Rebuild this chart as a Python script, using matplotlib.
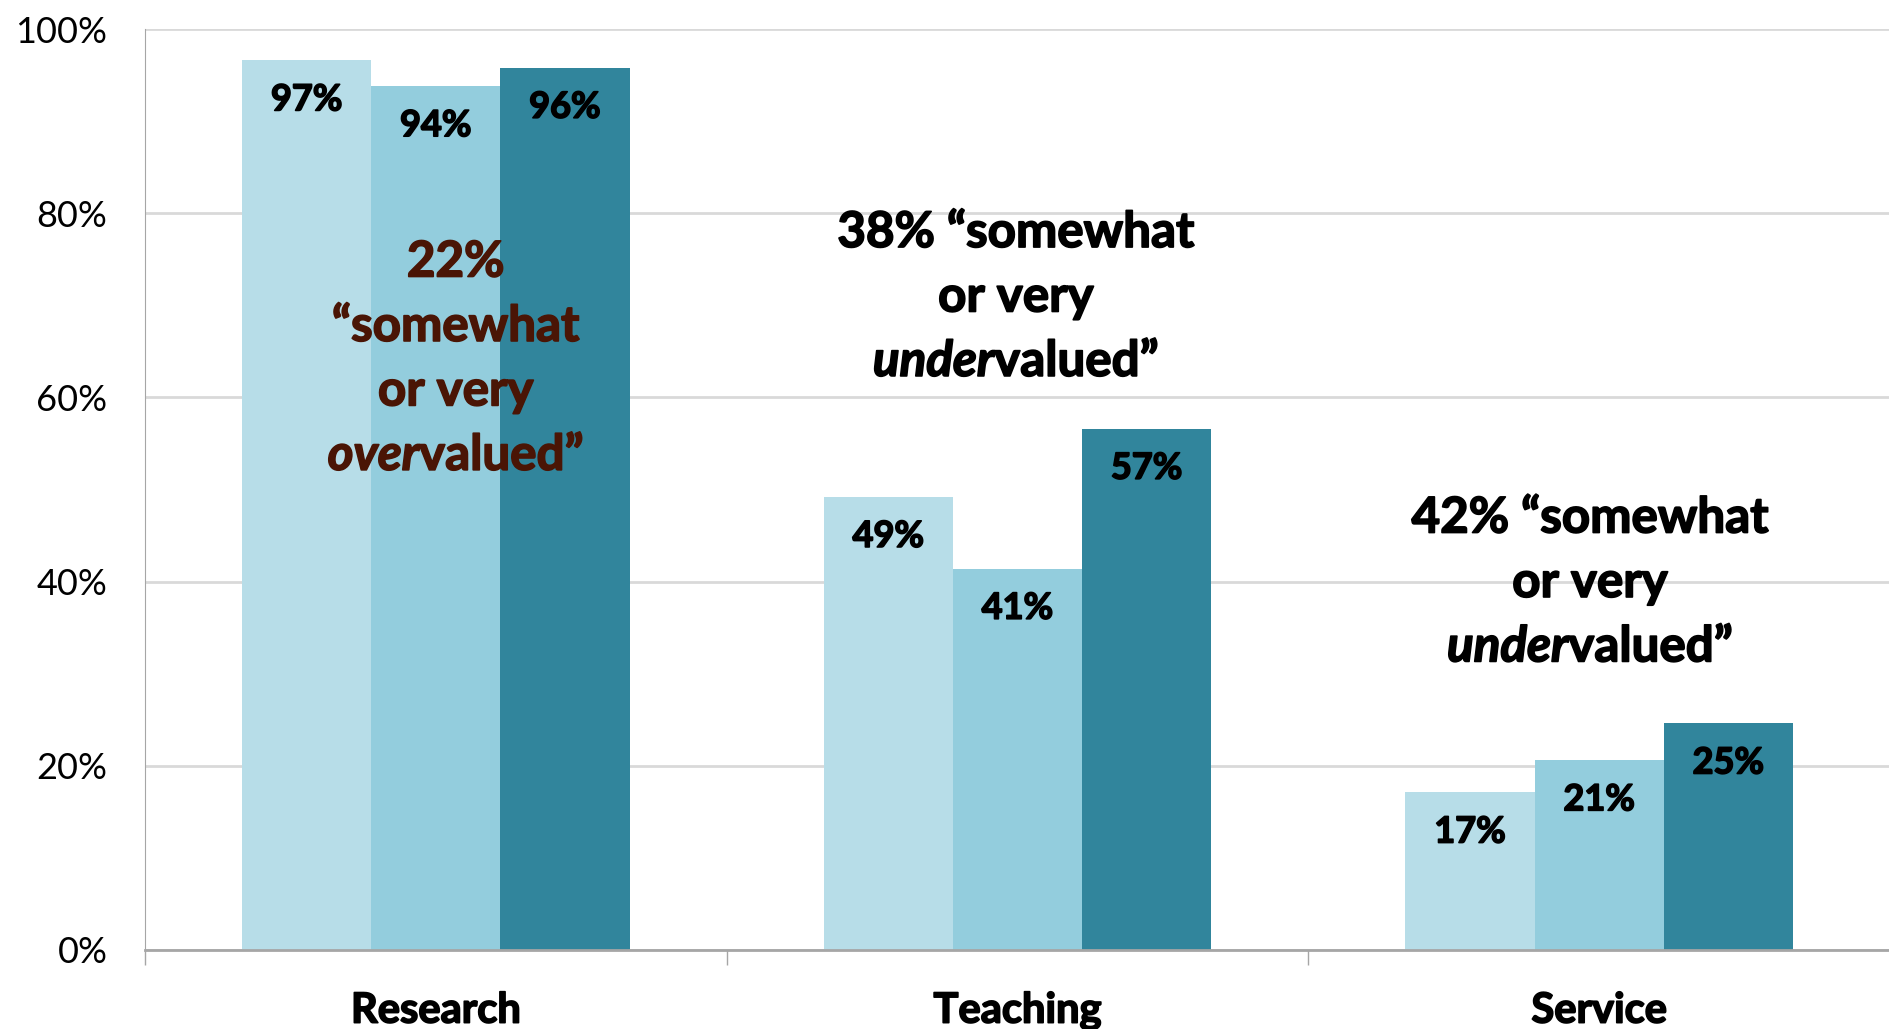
import matplotlib
matplotlib.use("Agg")
import matplotlib.pyplot as plt
import matplotlib.patheffects as pe
import numpy as np
from matplotlib.transforms import ScaledTranslation

plt.rcParams['font.family'] = ['Lato', 'DejaVu Sans']

categories = ["Research", "Teaching", "Service"]
series_a = [96.6, 49.2, 17.1]
series_b = [93.8, 41.4, 20.6]
series_c = [95.8, 56.6, 24.6]
labels_a = ["97%", "49%", "17%"]
labels_b = ["94%", "41%", "21%"]
labels_c = ["96%", "57%", "25%"]
yticks = [0, 20, 40, 60, 80, 100]
ytick_labels = ["0%", "20%", "40%", "60%", "80%", "100%"]

colors = ["#B7DDE8", "#93CDDD", "#31859C"]
brown = "#4A1505"

fig = plt.figure(figsize=(18.9, 10.29), dpi=100)
ax = fig.add_axes([0.0767, 0.0768, 0.9233, 0.8950])

def heavy(color):
    return [pe.withStroke(linewidth=1.2, foreground=color)]

x = np.arange(len(categories))
w = 0.222
for i, (vals, labs) in enumerate(zip([series_a, series_b, series_c],
                                      [labels_a, labels_b, labels_c])):
    bars = ax.bar(x + (i - 1) * w, vals, width=w, color=colors[i], zorder=2)
    for b, lab in zip(bars, labs):
        ax.annotate(lab, (b.get_x() + b.get_width() / 2, b.get_height()),
                    xytext=(0, -28.5), textcoords="offset points",
                    ha="center", va="center", fontsize=26, fontweight="bold",
                    color="black", zorder=3, path_effects=heavy("black"))

ax.set_xlim(-0.5, 2.5)
ax.set_ylim(0, 100)
ax.set_yticks(yticks)
ax.set_yticklabels(ytick_labels, fontsize=26)
ax.tick_params(axis="y", length=0, pad=27)
ax.yaxis.grid(True, color="#D9D9D9", linewidth=2, zorder=0)
ax.set_axisbelow(True)

ax.set_xticks(x)
ax.set_xticklabels(categories, fontsize=30, fontweight="bold")
for t in ax.get_xticklabels():
    t.set_path_effects(heavy("black"))
ax.tick_params(axis="x", which="major", length=0, pad=30)
ax.set_xticks([-0.5, 0.5, 1.5, 2.5], minor=True)
ax.tick_params(axis="x", which="minor", length=11, width=1, color="#A6A6A6")

for s in ["top", "right"]:
    ax.spines[s].set_visible(False)
ax.spines["left"].set_color("#A6A6A6")
ax.spines["bottom"].set_color("#A6A6A6")
ax.spines["bottom"].set_linewidth(2)

fig.canvas.draw()
renderer = fig.canvas.get_renderer()

def mixed_line(xd, yd, dy_pt, parts, color, fs):
    base = ax.transData + ScaledTranslation(0, dy_pt / 72.0, fig.dpi_scale_trans)
    texts = []
    for s, st in parts:
        t = ax.text(xd, yd, s, transform=base, ha="left", va="center",
                    fontsize=fs, fontweight="bold", style=st, color=color, zorder=4,
                    path_effects=heavy(color))
        texts.append(t)
    widths = [t.get_window_extent(renderer).width for t in texts]
    off = -sum(widths) / 2.0
    for t, wd in zip(texts, widths):
        t.set_transform(base + ScaledTranslation(off / fig.dpi, 0, fig.dpi_scale_trans))
        off += wd

step = 46.4
fs_ann = 35.5

ann_r = [[("22%", "normal")],
         [("\u201csomewhat", "normal")],
         [("or very", "normal")],
         [("over", "italic"), ("valued\u201d", "normal")]]
for k, parts in enumerate(ann_r):
    mixed_line(0.034, 74.7, -step * k, parts, brown, fs_ann)

ann_t = [[("38% \u201csomewhat", "normal")],
         [("or very", "normal")],
         [("under", "italic"), ("valued\u201d", "normal")]]
for k, parts in enumerate(ann_t):
    mixed_line(0.997, 77.9, -step * k, parts, "black", fs_ann)

ann_s = [[("42% \u201csomewhat", "normal")],
         [("or very", "normal")],
         [("under", "italic"), ("valued\u201d", "normal")]]
for k, parts in enumerate(ann_s):
    mixed_line(1.984, 46.9, -step * k, parts, "black", fs_ann)

fig.savefig("out.png", dpi=100, facecolor="white")
